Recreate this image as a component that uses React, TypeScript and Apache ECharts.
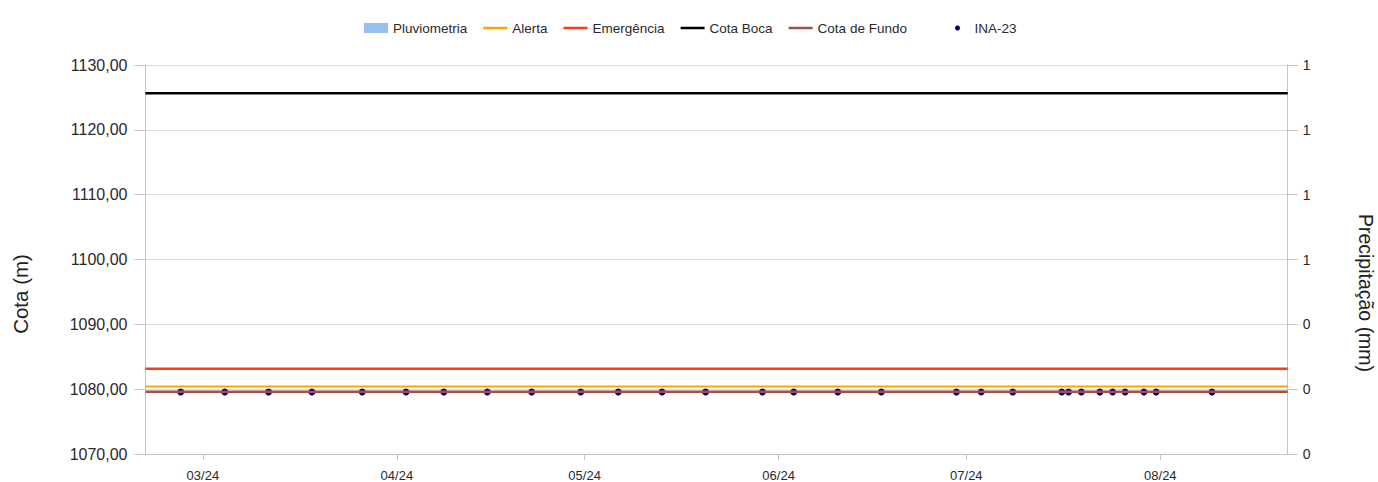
import React, { useEffect, useRef } from "react";
import * as echarts from "echarts";

// ---- data ----
const xRange = ["2024-02-20 20:00", "2024-08-21 08:30"];
const monthTicks = [
  "2024-03-01 00:00",
  "2024-04-01 00:00",
  "2024-05-01 00:00",
  "2024-06-01 00:00",
  "2024-07-01 00:00",
  "2024-08-01 00:00",
];
const inaDates = [
  "2024-02-26 11:00", "2024-03-04 12:00", "2024-03-11 12:00", "2024-03-18 10:00",
  "2024-03-26 11:00", "2024-04-02 11:00", "2024-04-08 12:00", "2024-04-15 11:00",
  "2024-04-22 13:00", "2024-04-30 09:00", "2024-05-06 09:00", "2024-05-13 09:00",
  "2024-05-20 08:00", "2024-05-29 10:00", "2024-06-03 10:00", "2024-06-10 11:00",
  "2024-06-17 10:00", "2024-06-29 10:00", "2024-07-03 09:00", "2024-07-08 10:00",
  "2024-07-16 06:00", "2024-07-17 08:00", "2024-07-19 09:00", "2024-07-22 08:00",
  "2024-07-24 09:00", "2024-07-26 09:00", "2024-07-29 09:00", "2024-07-31 08:00",
  "2024-08-09 06:00",
];
const inaValues = [
  1079.56, 1079.56, 1079.56, 1079.56, 1079.56, 1079.56, 1079.56, 1079.56,
  1079.56, 1079.56, 1079.56, 1079.56, 1079.56, 1079.56, 1079.56, 1079.56,
  1079.56, 1079.56, 1079.56, 1079.56, 1079.56, 1079.56, 1079.56, 1079.56,
  1079.56, 1079.56, 1079.56, 1079.56, 1079.56,
];
const pluviometriaDates: string[] = [];
const pluviometriaValues: number[] = [];
const alertaValue = 1080.4;
const emergenciaValue = 1083.13;
const cotaBocaValue = 1125.66;
const cotaFundoValue = 1079.62;
const leftAxis = { min: 1070, max: 1130, interval: 10 };
const rightAxis = { min: 0, max: 1.2, interval: 0.2 };

const FONT = "'Liberation Sans', Arial, sans-serif";
const LINE_ICON = "path://M0,0L24,0L24,2.5L0,2.5Z";

function toTs(s: string): number {
  const [d, t] = s.split(" ");
  const [y, m, dd] = d.split("-").map(Number);
  const [hh, mi] = (t || "00:00").split(":").map(Number);
  return new Date(y, m - 1, dd, hh, mi).getTime();
}

export default function App() {
  const ref = useRef<HTMLDivElement>(null);
  useEffect(() => {
    document.body.style.margin = "0";
    if (!ref.current) return;
    const chart = echarts.init(ref.current, undefined, { renderer: "svg" });
    const xMin = toTs(xRange[0]);
    const xMax = toTs(xRange[1]);
    const tickTs = monthTicks.map(toTs);
    const flat = (v: number) => [
      [xMin, v],
      [xMax, v],
    ];
    const axisGray = "#c4c4c4";
    const legendText = { fontSize: 13.5, color: "#2a2a2a", fontFamily: FONT };
    chart.setOption({
      animation: false,
      textStyle: { fontFamily: FONT },
      legend: [
        {
          left: 364,
          top: 21,
          padding: 0,
          itemWidth: 24,
          itemHeight: 10,
          itemGap: 16,
          textStyle: legendText,
          data: [
            { name: "Pluviometria", icon: "rect" },
            { name: "Alerta", icon: LINE_ICON },
            { name: "Emergência", icon: LINE_ICON },
            { name: "Cota Boca", icon: LINE_ICON },
            { name: "Cota de Fundo", icon: LINE_ICON },
          ],
        },
        {
          left: 955,
          top: 21,
          padding: 0,
          itemWidth: 24,
          itemHeight: 5,
          textStyle: legendText,
          data: [{ name: "INA-23", icon: "circle" }],
        },
      ],
      grid: { left: 145.5, right: 90.3, top: 65, bottom: 25.3 },
      xAxis: {
        type: "value",
        min: xMin,
        max: xMax,
        splitLine: { show: false },
        axisLine: { show: true, lineStyle: { color: axisGray } },
        axisTick: {
          show: true,
          length: 6,
          lineStyle: { color: axisGray },
          customValues: tickTs,
        },
        axisLabel: {
          customValues: tickTs,
          fontSize: 13,
          color: "#2a2a2a",
          margin: 15,
          fontFamily: FONT,
          formatter: (v: number) => {
            const d = new Date(v);
            const mm = String(d.getMonth() + 1).padStart(2, "0");
            const yy = String(d.getFullYear() % 100).padStart(2, "0");
            return mm + "/" + yy;
          },
        },
      },
      yAxis: [
        {
          type: "value",
          min: leftAxis.min,
          max: leftAxis.max,
          interval: leftAxis.interval,
          axisLine: { show: true, lineStyle: { color: axisGray } },
          axisTick: { show: true, length: 11, lineStyle: { color: axisGray } },
          splitLine: { show: true, lineStyle: { color: "#dcdcdc" } },
          axisLabel: {
            fontSize: 16,
            color: "#2a2a2a",
            margin: 18,
            fontFamily: FONT,
            formatter: (v: number) => v.toFixed(2).replace(".", ","),
          },
        },
        {
          type: "value",
          position: "right",
          min: rightAxis.min,
          max: rightAxis.max,
          interval: rightAxis.interval,
          axisLine: { show: true, lineStyle: { color: axisGray } },
          axisTick: { show: true, length: 10, lineStyle: { color: axisGray } },
          splitLine: { show: false },
          axisLabel: {
            fontSize: 14,
            color: "#2a2a2a",
            margin: 15,
            fontFamily: FONT,
            formatter: (v: number) => String(Math.round(v)),
          },
        },
      ],
      graphic: [
        {
          type: "text",
          x: 20.5,
          y: 294,
          rotation: Math.PI / 2,
          style: {
            text: "Cota (m)",
            fontSize: 20.5,
            fontFamily: FONT,
            fill: "#222",
            align: "center",
            verticalAlign: "middle",
          },
        },
        {
          type: "text",
          x: 1366,
          y: 293,
          rotation: -Math.PI / 2,
          style: {
            text: "Precipitação (mm)",
            fontSize: 19.5,
            fontFamily: FONT,
            fill: "#222",
            align: "center",
            verticalAlign: "middle",
          },
        },
      ],
      series: [
        {
          name: "Pluviometria",
          type: "bar",
          yAxisIndex: 1,
          itemStyle: { color: "#98c0f2" },
          data: pluviometriaDates.map((d, i) => [toTs(d), pluviometriaValues[i]]),
        },
        {
          name: "Alerta",
          type: "line",
          symbol: "none",
          lineStyle: { color: "#ffa500", width: 2 },
          itemStyle: { color: "#ffa500" },
          data: flat(alertaValue),
        },
        {
          name: "Emergência",
          type: "line",
          symbol: "none",
          lineStyle: { color: "#ff3a14", width: 2.5 },
          itemStyle: { color: "#ff3a14" },
          data: flat(emergenciaValue),
        },
        {
          name: "Cota Boca",
          type: "line",
          symbol: "none",
          lineStyle: { color: "#000000", width: 2.5 },
          itemStyle: { color: "#000000" },
          data: flat(cotaBocaValue),
        },
        {
          name: "Cota de Fundo",
          type: "line",
          symbol: "none",
          lineStyle: { color: "#a0504a", width: 2.5 },
          itemStyle: { color: "#a0504a" },
          data: flat(cotaFundoValue),
        },
        {
          name: "INA-23",
          type: "scatter",
          symbol: "circle",
          symbolSize: 7,
          itemStyle: { color: "#00007a", opacity: 1 },
          data: inaDates.map((d, i) => [toTs(d), inaValues[i]]),
        },
      ],
    });
    return () => chart.dispose();
  }, []);
  return <div ref={ref} style={{ width: 1378, height: 482 }} />;
}
